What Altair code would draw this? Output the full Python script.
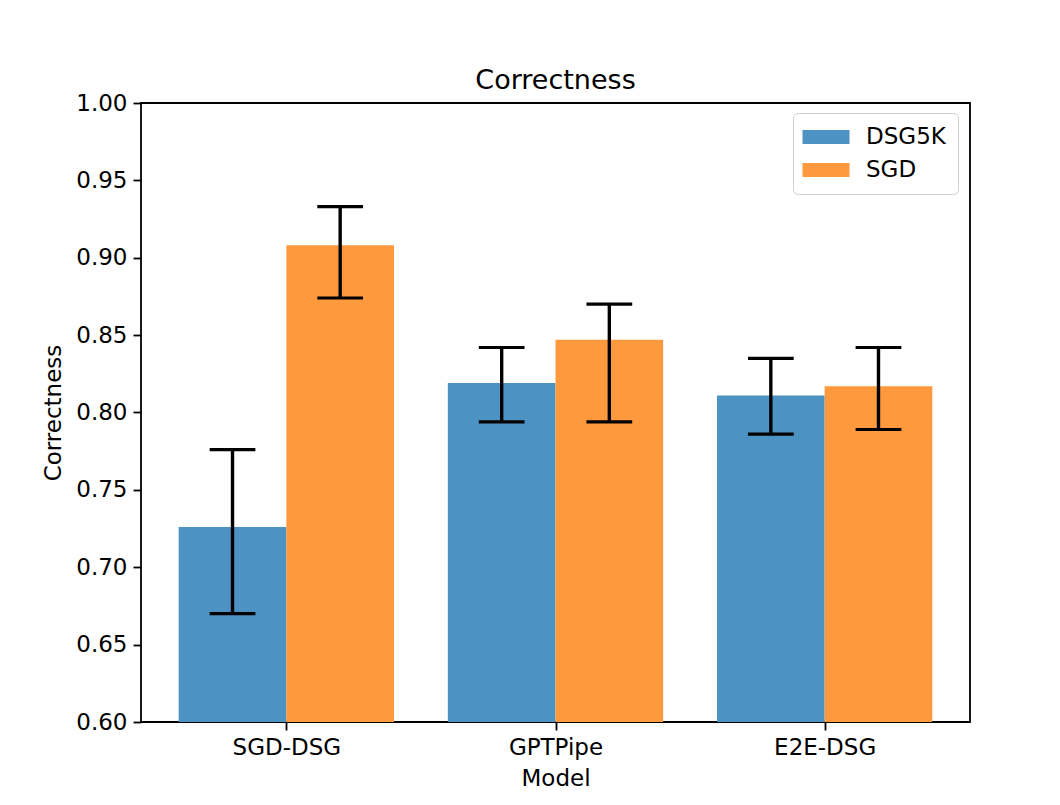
import altair as alt
import pandas as pd

models = ["SGD-DSG", "GPTPipe", "E2E-DSG"]
series = ["DSG5K", "SGD"]
dsg5k_mean = [0.726, 0.819, 0.811]
dsg5k_lo = [0.670, 0.794, 0.786]
dsg5k_hi = [0.776, 0.842, 0.835]
sgd_mean = [0.908, 0.847, 0.817]
sgd_lo = [0.874, 0.794, 0.789]
sgd_hi = [0.933, 0.870, 0.842]
colors = ["#4c92c3", "#ff993e"]

bar_w = 0.4
cap_half = 0.085

rows = []
for s_idx, (name, means, los, his) in enumerate(
    [("DSG5K", dsg5k_mean, dsg5k_lo, dsg5k_hi), ("SGD", sgd_mean, sgd_lo, sgd_hi)]
):
    for i, m in enumerate(models):
        x0 = i - bar_w + s_idx * bar_w
        rows.append({
            "model": m, "series": name, "mean": means[i], "lo": los[i], "hi": his[i],
            "x0": x0, "x1": x0 + bar_w, "xc": x0 + bar_w / 2,
            "c0": x0 + bar_w / 2 - cap_half, "c1": x0 + bar_w / 2 + cap_half,
        })
df = pd.DataFrame(rows)

font = "DejaVu Sans"
label_expr = "[" + ",".join(f"'{m}'" for m in models) + "][datum.value]"

xscale = alt.Scale(domain=[-0.54, 2.54], nice=False, zero=False)
yscale = alt.Scale(domain=[0.6, 1.0], nice=False, zero=False)

base = alt.Chart(df)

bars = base.mark_bar(clip=True).encode(
    x=alt.X("x0:Q", scale=xscale,
            axis=alt.Axis(values=[0, 1, 2], labelExpr=label_expr, title="Model",
                          grid=False, tickSize=8, tickWidth=1.8, tickColor="black",
                          domain=False, labelFontSize=23, titleFontSize=23,
                          labelFont=font, titleFont=font, labelColor="black",
                          titleColor="black", labelPadding=6, titlePadding=8,
                          titleFontWeight="normal")),
    x2="x1:Q",
    y=alt.Y("mean:Q", scale=yscale,
            axis=alt.Axis(values=[0.6, 0.65, 0.7, 0.75, 0.8, 0.85, 0.9, 0.95, 1.0],
                          format=".2f", title="Correctness", grid=False, tickSize=8,
                          tickWidth=1.8, tickColor="black", domain=False,
                          labelFontSize=23, titleFontSize=23, labelFont=font,
                          titleFont=font, labelColor="black", titleColor="black",
                          labelPadding=6, titlePadding=10, titleFontWeight="normal")),
    y2=alt.datum(0.6),
    color=alt.Color("series:N", scale=alt.Scale(domain=series, range=colors),
                    legend=alt.Legend(
                        title=None, orient="none", legendX=652, legendY=10,
                        symbolType="M-2,-0.6L2,-0.6L2,0.6L-2,0.6Z",
                        symbolSize=552, symbolStrokeWidth=0, symbolOpacity=1,
                        labelFontSize=23, labelFont=font, labelColor="black",
                        fillColor="white", strokeColor="#d0d0d0", cornerRadius=5,
                        padding=12, rowPadding=9, labelOffset=28, symbolOffset=9)),
)

err = base.mark_rule(color="black", strokeWidth=3.4).encode(
    x="xc:Q", y="lo:Q", y2="hi:Q"
)
cap_lo = base.mark_rule(color="black", strokeWidth=3.2).encode(
    x="c0:Q", x2="c1:Q", y="lo:Q"
)
cap_hi = base.mark_rule(color="black", strokeWidth=3.2).encode(
    x="c0:Q", x2="c1:Q", y="hi:Q"
)

chart = alt.layer(bars, err, cap_lo, cap_hi).properties(
    width=829, height=619,
    title=alt.Title("Correctness", fontSize=27, font=font, fontWeight="normal",
                    color="black", offset=-3),
    autosize=alt.AutoSizeParams(type="none"),
    padding={"left": 133, "top": 95, "right": 60, "bottom": 70},
).configure(
    background="white",
    view=alt.ViewConfig(stroke="black", strokeWidth=1.8),
)

chart.save("out.html", embed_options={"renderer": "svg", "actions": False})
